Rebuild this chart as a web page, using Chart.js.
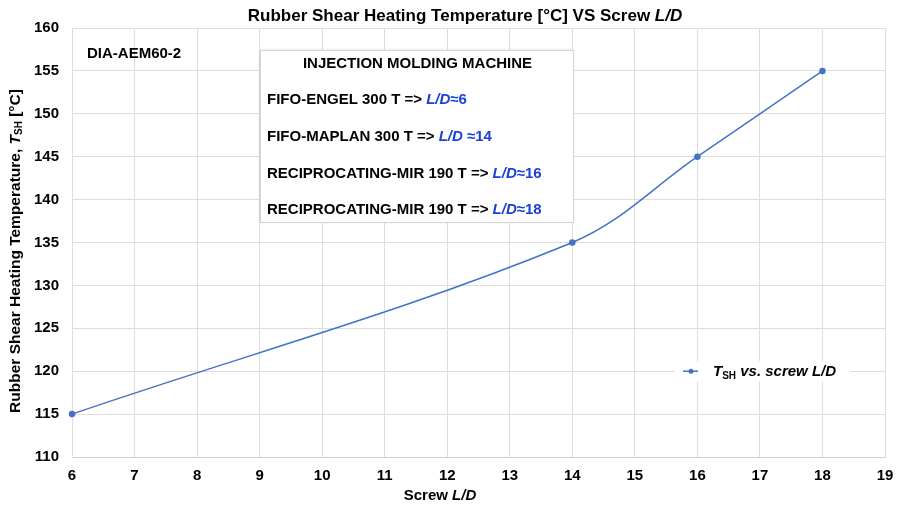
<!DOCTYPE html>
<html lang="en">
<head>
    <meta charset="UTF-8">
    <title>Rubber Shear Heating Temperature vs Screw L/D</title>
    <script src="https://cdn.jsdelivr.net/npm/chart.js"></script>
    <style>
        html, body { margin: 0; padding: 0; background: #fff; }
        #wrap { width: 900px; height: 505px; }
    </style>
</head>
<body>
    <div id="wrap"><canvas id="shearChart"></canvas></div>

    <script>
        // data
        const ldValues = [6, 14, 16, 18];
        const tshValues = [115, 135, 145, 155];
        const xMin = 6, xMax = 19;
        const yMin = 110, yMax = 160, yStep = 5;

        const sampleLabel = 'DIA-AEM60-2';
        const boxTitle = 'INJECTION MOLDING MACHINE';
        const machines = ['FIFO-ENGEL 300 T => ', 'FIFO-MAPLAN 300 T => ', 'RECIPROCATING-MIR 190 T => ', 'RECIPROCATING-MIR 190 T => '];
        const machineLD = ['L/D', 'L/D', 'L/D', 'L/D'];
        const machineApprox = ['≈6', ' ≈14', '≈16', '≈18'];

        const FONT = '"Liberation Sans", Arial, sans-serif';
        const lineColor = '#4472c4';
        const blueText = '#1a40d6';

        // draws a row of text pieces, each with its own style
        function drawRich(ctx, parts, x, y, align) {
            let widths = parts.map(p => {
                ctx.font = p.font;
                return ctx.measureText(p.text).width;
            });
            let total = widths.reduce((a, b) => a + b, 0);
            let cx = x;
            if (align === 'center') cx = x - total / 2;
            ctx.textBaseline = 'alphabetic';
            ctx.textAlign = 'left';
            parts.forEach((p, i) => {
                ctx.font = p.font;
                ctx.fillStyle = p.color || '#000';
                ctx.fillText(p.text, cx, y + (p.dy || 0));
                cx += widths[i];
            });
            return total;
        }

        const extras = {
            id: 'extras',
            afterDraw(chart) {
                const ctx = chart.ctx;
                const area = chart.chartArea;
                const ys = chart.scales.y;
                ctx.save();

                // title
                drawRich(ctx, [
                    { text: 'Rubber Shear Heating Temperature [°C] VS Screw ', font: 'bold 17px ' + FONT },
                    { text: 'L/D', font: 'italic bold 17px ' + FONT }
                ], 465, 21, 'center');

                // x axis title
                drawRich(ctx, [
                    { text: 'Screw ', font: 'bold 15px ' + FONT },
                    { text: 'L/D', font: 'italic bold 15px ' + FONT }
                ], 440, 500, 'center');

                // y axis title (rotated)
                ctx.save();
                ctx.translate(20, 251);
                ctx.rotate(-Math.PI / 2);
                drawRich(ctx, [
                    { text: 'Rubber Shear Heating Temperature, ', font: 'bold 15.5px ' + FONT },
                    { text: 'T', font: 'italic bold 15.5px ' + FONT },
                    { text: 'SH', font: 'bold 10px ' + FONT, dy: 2 },
                    { text: ' [°C]', font: 'bold 15.5px ' + FONT }
                ], 0, 0, 'center');
                ctx.restore();

                // sample label
                drawRich(ctx, [{ text: sampleLabel, font: 'bold 15px ' + FONT }], area.left + 15, 58, 'left');

                // machine box
                const bx = 260, by = 50, bw = 313, bh = 172;
                ctx.shadowColor = 'rgba(0,0,0,0.12)';
                ctx.shadowBlur = 3;
                ctx.fillStyle = '#fff';
                ctx.fillRect(bx, by, bw, bh);
                ctx.shadowColor = 'transparent';
                ctx.strokeStyle = '#d4d4d4';
                ctx.lineWidth = 1;
                ctx.strokeRect(bx + 0.5, by + 0.5, bw, bh);

                drawRich(ctx, [{ text: boxTitle, font: 'bold 15px ' + FONT }], bx + bw / 2 + 1, by + 18, 'center');
                machines.forEach((m, i) => {
                    drawRich(ctx, [
                        { text: m, font: 'bold 15px ' + FONT },
                        { text: machineLD[i], font: 'italic bold 15px ' + FONT, color: blueText },
                        { text: machineApprox[i], font: 'bold 15px ' + FONT, color: blueText }
                    ], bx + 7, by + 54 + i * 36.8, 'left');
                });

                // legend
                const ly = ys.getPixelForValue(120);
                const lx = 683;
                ctx.fillStyle = '#fff';
                ctx.fillRect(lx - 8, ly - 10, 175, 20);
                ctx.strokeStyle = lineColor;
                ctx.lineWidth = 1.5;
                ctx.beginPath();
                ctx.moveTo(lx, ly);
                ctx.lineTo(lx + 15, ly);
                ctx.stroke();
                ctx.fillStyle = lineColor;
                ctx.beginPath();
                ctx.arc(lx + 8, ly, 2.5, 0, Math.PI * 2);
                ctx.fill();
                drawRich(ctx, [
                    { text: 'T', font: 'italic bold 15px ' + FONT },
                    { text: 'SH', font: 'bold 10px ' + FONT, dy: 3 },
                    { text: ' vs. screw L/D', font: 'italic bold 15px ' + FONT }
                ], lx + 30, ly + 5, 'left');

                ctx.restore();
            }
        };

        const ctx = document.getElementById('shearChart').getContext('2d');
        const shearChart = new Chart(ctx, {
            type: 'line',
            data: {
                datasets: [{
                    label: 'TSH vs. screw L/D',
                    data: ldValues.map((x, i) => ({ x: x, y: tshValues[i] })),
                    borderColor: lineColor,
                    backgroundColor: lineColor,
                    borderWidth: 1.5,
                    pointRadius: 2.5,
                    pointHoverRadius: 2.5,
                    tension: 0.35,
                    clip: false,
                    fill: false
                }]
            },
            options: {
                responsive: true,
                maintainAspectRatio: false,
                animation: false,
                layout: { padding: { top: 28, right: 15, bottom: 0, left: 0 } },
                plugins: {
                    legend: { display: false },
                    title: { display: false },
                    tooltip: { enabled: false }
                },
                scales: {
                    x: {
                        type: 'linear',
                        min: xMin,
                        max: xMax,
                        ticks: {
                            stepSize: 1,
                            color: '#000',
                            padding: 10,
                            font: { family: FONT, size: 15, weight: 'bold' }
                        },
                        grid: { color: '#dedede', drawTicks: false },
                        border: { color: '#d0d0d0' },
                        afterFit(scale) {
                            scale.height = 48;
                            scale.paddingLeft = 0;
                            scale.paddingRight = 0;
                        }
                    },
                    y: {
                        min: yMin,
                        max: yMax,
                        ticks: {
                            stepSize: yStep,
                            color: '#000',
                            padding: 13,
                            font: { family: FONT, size: 15, weight: 'bold' }
                        },
                        grid: { color: '#dedede', drawTicks: false },
                        border: { color: '#dedede' },
                        afterFit(scale) {
                            scale.width = 72;
                            scale.paddingTop = 0;
                            scale.paddingBottom = 0;
                        }
                    }
                }
            },
            plugins: [extras]
        });
    </script>
</body>
</html>
